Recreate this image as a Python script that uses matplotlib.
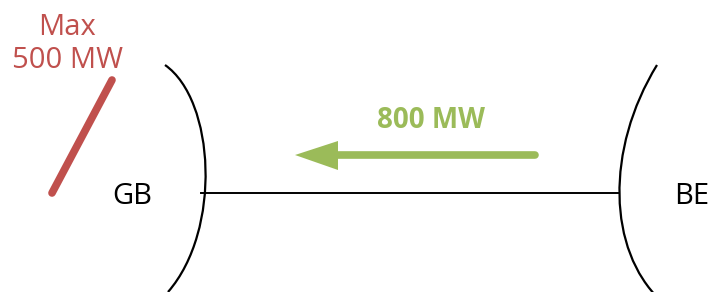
import numpy as np
import matplotlib
matplotlib.use("Agg")
import matplotlib.pyplot as plt
from matplotlib.path import Path
from matplotlib.patches import PathPatch

RED = "#C0504D"
GREEN = "#9BBB59"

# labels and values
regions = ["GB", "BE"]
flow_label = "800 MW"
cap_label = "Max\n500 MW"

# pixel-space layout (figure is 710x292, y grows downward)
gb_arc = [(165, 65), (215, 100), (222, 230), (168, 292)]
be_arc = [(657, 65), (605, 150), (608, 250), (660, 300)]
link_y = 193

fig = plt.figure(figsize=(7.1, 2.92), dpi=100)
ax = fig.add_axes([0, 0, 1, 1])
ax.set_xlim(0, 710)
ax.set_ylim(292, 0)
ax.axis("off")

codes = [Path.MOVETO, Path.CURVE4, Path.CURVE4, Path.CURVE4]
for arc in (gb_arc, be_arc):
    ax.add_patch(PathPatch(Path(arc, codes), fill=False, lw=1.6, ec="black"))

ax.plot([201, 618], [link_y, link_y], color="black", lw=1.4)

ax.text(132, link_y + 3, regions[0], fontsize=21, family="Open Sans", ha="center", va="center")
ax.text(692, link_y + 3, regions[1], fontsize=21, family="Open Sans", ha="center", va="center")

# capacity marker
ax.plot([52, 112], [193, 80], color=RED, lw=5.5, solid_capstyle="round")
ax.text(67, 44, cap_label, color=RED, fontsize=21, family="Open Sans",
        ha="center", va="center", linespacing=1.2)

# flow arrow
ax.plot([338, 535], [155, 155], color=GREEN, lw=5.5, solid_capstyle="round")
ax.add_patch(plt.Polygon([(295, 155), (338, 141), (338, 170)], color=GREEN, lw=0))
ax.text(431, 121, flow_label, color=GREEN, fontsize=20, fontweight="bold",
        family="Open Sans", ha="center", va="center")

fig.savefig("out.png", dpi=100)
